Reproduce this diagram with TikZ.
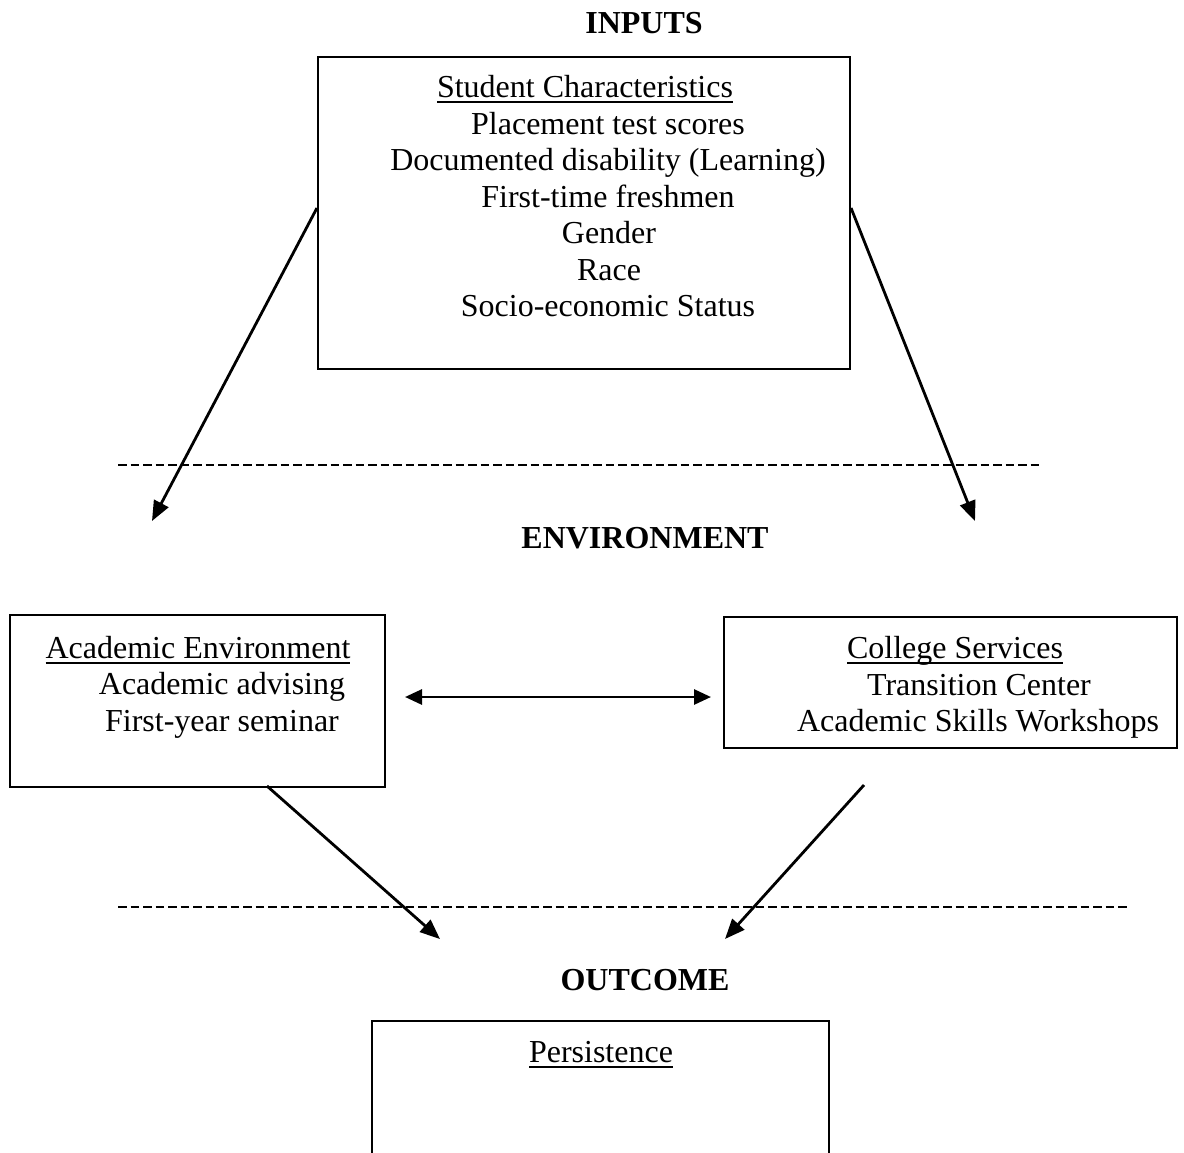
\documentclass[tikz,border=0pt]{standalone}
\usepackage{fontspec}
\setmainfont{Liberation Serif}
\usetikzlibrary{arrows.meta}
\newcommand\myul[1]{\setbox0\hbox{#1}\rlap{\vrule height -3.5pt depth 5.8pt width \wd0}\box0}
\begin{document}
\begin{tikzpicture}[x=1pt,y=-1pt,
  box/.style={draw, line width=2.1pt, inner sep=0pt},
  txt/.style={anchor=base, inner sep=0pt, font=\fontsize{32}{36.5}\selectfont},
  head/.style={txt, font=\fontsize{32}{36.5}\selectfont\bfseries},
  conn/.style={line width=2.8pt, -{Triangle[length=20pt,width=16pt]}},
  biconn/.style={line width=2.8pt, {Triangle[length=17pt,width=15pt]}-{Triangle[length=17pt,width=15pt]}},
  sep/.style={line width=2.4pt, dash pattern=on 8.5pt off 4pt}]
\useasboundingbox (0,0) rectangle (1184,1152);
\clip (0,0) rectangle (1184,1152);
\fill[white] (0,0) rectangle (1184,1152);

% headings
\node[head] (hin) at (644,33) {INPUTS};
\node[head] (henv) at (645,548) {ENVIRONMENT};
\node[head] (hout) at (645,990) {OUTCOME};

% top box
\node[box, minimum width=532pt, minimum height=312pt] (top) at (584,213) {};
\node[txt] (t0) at (585,97) {\myul{Student Characteristics}};
\node[txt] (t1) at (608,134) {Placement test scores};
\node[txt] (t2) at (608,170) {Documented disability (Learning)};
\node[txt] (t3) at (608,207) {First-time freshmen};
\node[txt] (t4) at (609,243) {Gender};
\node[txt] (t5) at (609,280) {Race};
\node[txt] (t6) at (608,316) {Socio-economic Status};

% left box
\node[box, minimum width=375pt, minimum height=172pt] (lbox) at (197.5,701) {};
\node[txt] (l0) at (198,658) {\myul{Academic Environment}};
\node[txt] (l1) at (222,694) {Academic advising};
\node[txt] (l2) at (222,731) {First-year seminar};

% right box
\node[box, minimum width=453pt, minimum height=131pt] (rbox) at (950.5,682.5) {};
\node[txt] (r0) at (955,658) {\myul{College Services}};
\node[txt] (r1) at (979,695) {Transition Center};
\node[txt] (r2) at (978,731) {Academic Skills Workshops};

% bottom box (runs past the lower edge)
\node[box, minimum width=457pt, minimum height=170pt] (bbox) at (600.5,1106) {};
\node[txt] (b0) at (601,1062) {\myul{Persistence}};

% separators
\draw[sep] (118,465) -- (1042,465);
\draw[sep] (118,907) -- (1128,907);

% free ends
\coordinate (e1) at (152,521);
\coordinate (e2) at (975,521);
\coordinate (d1) at (405,697);
\coordinate (d2) at (711,697);
\coordinate (s3) at (267,786);
\coordinate (e3) at (440,939);
\coordinate (s4) at (864,785);
\coordinate (e4) at (725,939);

% connectors
\draw[conn] ([yshift=5pt]top.west) -- (e1);
\draw[conn] ([yshift=5pt]top.east) -- (e2);
\draw[biconn] (d1) -- (d2);
\draw[conn] (s3) -- (e3);
\draw[conn] (s4) -- (e4);
\end{tikzpicture}
\end{document}
